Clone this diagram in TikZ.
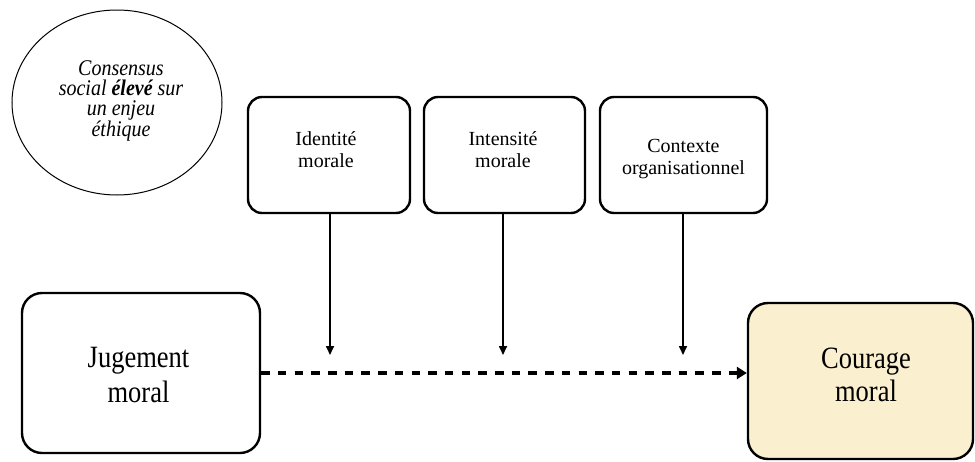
\documentclass[tikz,border=0pt]{standalone}
\usepackage{fontspec}
\usepackage{graphicx}
\setmainfont{Liberation Serif}
\usetikzlibrary{shapes.geometric,arrows.meta}
\definecolor{beige}{HTML}{FAEFCF}
% centred lines with an exact baseline distance; the box baseline is the first line's
\newcommand\linestack[2]{\vtop{\baselineskip=#1\lineskiplimit=-\maxdimen
  \halign{\hfil##\hfil\cr#2\crcr}}}
\newcommand\tallstack[3]{\scalebox{1}[#1]{\linestack{#2}{#3}}}
\begin{document}
\begin{tikzpicture}[x=1pt,y=-1pt,
  smallbox/.style={draw,line width=2.4pt,rounded corners=14pt,inner sep=0pt,
    minimum height=116pt},
  bigbox/.style={draw,line width=2.4pt,rounded corners=20pt,inner sep=0pt},
  label/.style={inner sep=0pt,anchor=base},
  modarrow/.style={line width=1.6pt,-{Triangle[length=9pt,width=8pt]}},
  mainarrow/.style={line width=3.5pt,dash pattern=on 8.5pt off 8.2pt,
    -{Triangle[length=10pt,width=12pt]}}]
\useasboundingbox (0,0) rectangle (975,461);

% consensus ellipse
\node[draw,line width=1pt,ellipse,minimum width=210pt,minimum height=185pt,inner sep=0pt]
  (cons) at (117,102.5) {};
\node[label,font=\fontsize{20}{20}\selectfont\itshape] (constext) at (121,75)
  {\tallstack{1.12}{18.3pt}{Consensus\cr social \textbf{élevé} sur\cr un enjeu\cr éthique}};

% moderator boxes
\node[smallbox,minimum width=162pt] (ident) at (329,155) {};
\node[smallbox,minimum width=161pt] (inten) at (504.5,155) {};
\node[smallbox,minimum width=167pt] (ctx) at (683.5,155) {};
\node[label,font=\fontsize{20}{20}\selectfont] (identtext) at (326,145)
  {\linestack{22pt}{Identité\cr morale}};
\node[label,font=\fontsize{20}{20}\selectfont] (intentext) at (503,145)
  {\linestack{22pt}{Intensité\cr morale}};
\node[label,font=\fontsize{20}{20}\selectfont] (ctxtext) at (683.5,152)
  {\linestack{22pt}{Contexte\cr organisationnel}};

% main variables
\node[bigbox,minimum width=238pt,minimum height=160pt] (jug) at (141,373) {};
\node[bigbox,fill=beige,minimum width=225pt,minimum height=156pt] (cour) at (860.5,381) {};
\node[label,font=\fontsize{26.5}{26.5}\selectfont] (jugtext) at (138.5,367)
  {\tallstack{1.17}{30pt}{Jugement\cr moral}};
\node[label,font=\fontsize{26.5}{26.5}\selectfont] (courtext) at (866,368)
  {\tallstack{1.17}{29pt}{Courage\cr moral}};

% arrow end points on the main path
\coordinate (e1) at (330,355);
\coordinate (e2) at (503,355);
\coordinate (e3) at (683,355);

\draw[modarrow] (ident.south -| e1) -- (e1);
\draw[modarrow] (inten.south -| e2) -- (e2);
\draw[modarrow] (ctx.south -| e3) -- (e3);

\draw[mainarrow] (jug.east) -- (jug.east -| cour.west);
\end{tikzpicture}
\end{document}
